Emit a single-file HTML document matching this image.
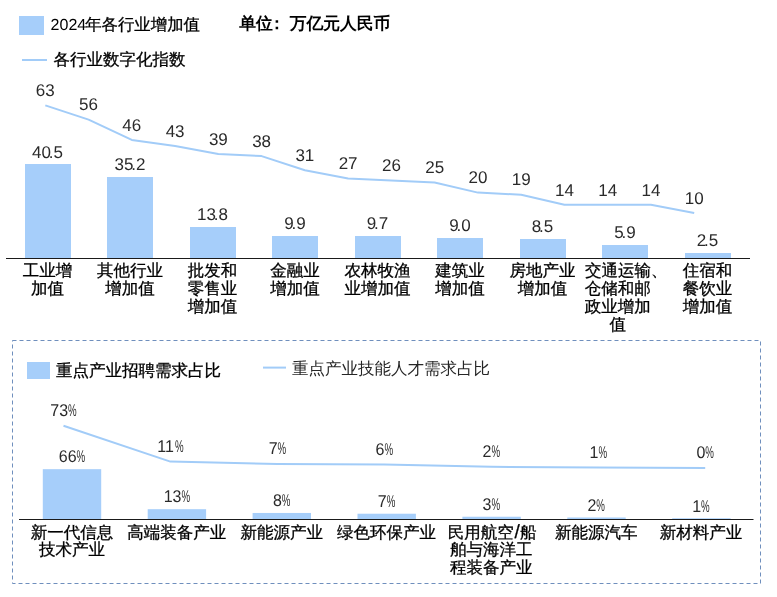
<!DOCTYPE html><html><head><meta charset="utf-8"><style>html,body{margin:0;padding:0;background:#fff;}svg{display:block;font-family:"Liberation Sans",sans-serif;text-rendering:geometricPrecision;will-change:transform;}</style></head><body>
<svg width="777" height="597" viewBox="0 0 777 597">
<rect x="19" y="16" width="25" height="19" fill="#A6CEFA"/>
<text x="50.6" y="30.4" fill="#000" stroke="#000" stroke-width="0.3"><tspan font-size="16" stroke-width="0">2024</tspan><tspan font-size="16.4" dx="-1">年各行业增加值</tspan></text>
<text x="239.3" y="29.0" fill="#000" font-weight="bold" font-size="16.8">单位<tspan dx="-4.4">：</tspan><tspan dx="4.4">万亿元人民币</tspan></text>
<rect x="22" y="59" width="25" height="2" fill="#A2CCF8"/>
<text x="53.40" y="64.80" text-anchor="start" fill="#000" stroke="#000" stroke-width="0.3"><tspan font-size="16.5">各行业数字化指数</tspan></text>
<polyline points="45.3,105.4 88.6,119.6 131.8,139.9 175.1,146.0 218.3,154.1 261.6,156.1 304.9,170.3 348.1,178.4 391.4,180.5 434.6,182.5 477.9,192.6 521.2,194.7 564.4,204.8 607.7,204.8 650.9,204.8 694.2,212.9" fill="none" stroke="#A2CCF8" stroke-width="2" stroke-linejoin="round"/>
<text transform="translate(45.30,96.24) scale(1.0,1)" text-anchor="middle" fill="#2a2a2a" font-size="17">63</text>
<text transform="translate(88.56,110.43) scale(1.0,1)" text-anchor="middle" fill="#2a2a2a" font-size="17">56</text>
<text transform="translate(131.82,130.71) scale(1.0,1)" text-anchor="middle" fill="#2a2a2a" font-size="17">46</text>
<text transform="translate(175.08,136.80) scale(1.0,1)" text-anchor="middle" fill="#2a2a2a" font-size="17">43</text>
<text transform="translate(218.34,144.91) scale(1.0,1)" text-anchor="middle" fill="#2a2a2a" font-size="17">39</text>
<text transform="translate(261.60,146.94) scale(1.0,1)" text-anchor="middle" fill="#2a2a2a" font-size="17">38</text>
<text transform="translate(304.86,161.13) scale(1.0,1)" text-anchor="middle" fill="#2a2a2a" font-size="17">31</text>
<text transform="translate(348.12,169.24) scale(1.0,1)" text-anchor="middle" fill="#2a2a2a" font-size="17">27</text>
<text transform="translate(391.38,171.27) scale(1.0,1)" text-anchor="middle" fill="#2a2a2a" font-size="17">26</text>
<text transform="translate(434.64,173.30) scale(1.0,1)" text-anchor="middle" fill="#2a2a2a" font-size="17">25</text>
<text transform="translate(477.90,183.44) scale(1.0,1)" text-anchor="middle" fill="#2a2a2a" font-size="17">20</text>
<text transform="translate(521.16,185.47) scale(1.0,1)" text-anchor="middle" fill="#2a2a2a" font-size="17">19</text>
<text transform="translate(564.42,195.61) scale(1.0,1)" text-anchor="middle" fill="#2a2a2a" font-size="17">14</text>
<text transform="translate(607.68,195.61) scale(1.0,1)" text-anchor="middle" fill="#2a2a2a" font-size="17">14</text>
<text transform="translate(650.94,195.61) scale(1.0,1)" text-anchor="middle" fill="#2a2a2a" font-size="17">14</text>
<text transform="translate(694.20,203.72) scale(1.0,1)" text-anchor="middle" fill="#2a2a2a" font-size="17">10</text>
<rect x="24.80" y="164.27" width="46" height="93.73" fill="#A6CEFA" shape-rendering="crispEdges"/>
<text transform="translate(47.50,157.57) scale(1.0,1)" text-anchor="middle" fill="#2a2a2a" font-size="17">40<tspan dx="-2.3">.</tspan>5</text>
<text x="47.50" y="275.80" text-anchor="middle" fill="#000" stroke="#000" stroke-width="0.3"><tspan font-size="16.5">工业增</tspan></text>
<text x="47.50" y="293.90" text-anchor="middle" fill="#000" stroke="#000" stroke-width="0.3"><tspan font-size="16.5">加值</tspan></text>
<rect x="107.30" y="176.64" width="46" height="81.36" fill="#A6CEFA" shape-rendering="crispEdges"/>
<text transform="translate(130.00,169.94) scale(1.0,1)" text-anchor="middle" fill="#2a2a2a" font-size="17">35<tspan dx="-2.3">.</tspan>2</text>
<text x="130.00" y="275.80" text-anchor="middle" fill="#000" stroke="#000" stroke-width="0.3"><tspan font-size="16.5">其他行业</tspan></text>
<text x="130.00" y="293.90" text-anchor="middle" fill="#000" stroke="#000" stroke-width="0.3"><tspan font-size="16.5">增加值</tspan></text>
<rect x="189.80" y="226.59" width="46" height="31.41" fill="#A6CEFA" shape-rendering="crispEdges"/>
<text transform="translate(212.50,219.89) scale(1.0,1)" text-anchor="middle" fill="#2a2a2a" font-size="17">13<tspan dx="-2.3">.</tspan>8</text>
<text x="212.50" y="275.80" text-anchor="middle" fill="#000" stroke="#000" stroke-width="0.3"><tspan font-size="16.5">批发和</tspan></text>
<text x="212.50" y="293.90" text-anchor="middle" fill="#000" stroke="#000" stroke-width="0.3"><tspan font-size="16.5">零售业</tspan></text>
<text x="212.50" y="312.00" text-anchor="middle" fill="#000" stroke="#000" stroke-width="0.3"><tspan font-size="16.5">增加值</tspan></text>
<rect x="272.30" y="235.69" width="46" height="22.31" fill="#A6CEFA" shape-rendering="crispEdges"/>
<text transform="translate(295.00,228.99) scale(1.0,1)" text-anchor="middle" fill="#2a2a2a" font-size="17">9<tspan dx="-2.3">.</tspan>9</text>
<text x="295.00" y="275.80" text-anchor="middle" fill="#000" stroke="#000" stroke-width="0.3"><tspan font-size="16.5">金融业</tspan></text>
<text x="295.00" y="293.90" text-anchor="middle" fill="#000" stroke="#000" stroke-width="0.3"><tspan font-size="16.5">增加值</tspan></text>
<rect x="354.80" y="236.16" width="46" height="21.84" fill="#A6CEFA" shape-rendering="crispEdges"/>
<text transform="translate(377.50,229.46) scale(1.0,1)" text-anchor="middle" fill="#2a2a2a" font-size="17">9<tspan dx="-2.3">.</tspan>7</text>
<text x="377.50" y="275.80" text-anchor="middle" fill="#000" stroke="#000" stroke-width="0.3"><tspan font-size="16.5">农林牧渔</tspan></text>
<text x="377.50" y="293.90" text-anchor="middle" fill="#000" stroke="#000" stroke-width="0.3"><tspan font-size="16.5">业增加值</tspan></text>
<rect x="437.30" y="237.79" width="46" height="20.21" fill="#A6CEFA" shape-rendering="crispEdges"/>
<text transform="translate(460.00,231.09) scale(1.0,1)" text-anchor="middle" fill="#2a2a2a" font-size="17">9<tspan dx="-2.3">.</tspan>0</text>
<text x="460.00" y="275.80" text-anchor="middle" fill="#000" stroke="#000" stroke-width="0.3"><tspan font-size="16.5">建筑业</tspan></text>
<text x="460.00" y="293.90" text-anchor="middle" fill="#000" stroke="#000" stroke-width="0.3"><tspan font-size="16.5">增加值</tspan></text>
<rect x="519.80" y="238.96" width="46" height="19.04" fill="#A6CEFA" shape-rendering="crispEdges"/>
<text transform="translate(542.50,232.26) scale(1.0,1)" text-anchor="middle" fill="#2a2a2a" font-size="17">8<tspan dx="-2.3">.</tspan>5</text>
<text x="542.50" y="275.80" text-anchor="middle" fill="#000" stroke="#000" stroke-width="0.3"><tspan font-size="16.5">房地产业</tspan></text>
<text x="542.50" y="293.90" text-anchor="middle" fill="#000" stroke="#000" stroke-width="0.3"><tspan font-size="16.5">增加值</tspan></text>
<rect x="602.30" y="245.03" width="46" height="12.97" fill="#A6CEFA" shape-rendering="crispEdges"/>
<text transform="translate(625.00,238.33) scale(1.0,1)" text-anchor="middle" fill="#2a2a2a" font-size="17">5<tspan dx="-2.3">.</tspan>9</text>
<rect x="684.80" y="252.97" width="46" height="5.03" fill="#A6CEFA" shape-rendering="crispEdges"/>
<text transform="translate(707.50,246.27) scale(1.0,1)" text-anchor="middle" fill="#2a2a2a" font-size="17">2<tspan dx="-2.3">.</tspan>5</text>
<text x="707.50" y="275.80" text-anchor="middle" fill="#000" stroke="#000" stroke-width="0.3"><tspan font-size="16.5">住宿和</tspan></text>
<text x="707.50" y="293.90" text-anchor="middle" fill="#000" stroke="#000" stroke-width="0.3"><tspan font-size="16.5">餐饮业</tspan></text>
<text x="707.50" y="312.00" text-anchor="middle" fill="#000" stroke="#000" stroke-width="0.3"><tspan font-size="16.5">增加值</tspan></text>
<text x="585.00" y="275.80" text-anchor="start" fill="#000" stroke="#000" stroke-width="0.3"><tspan font-size="16.5">交通运输、</tspan></text>
<text x="617.80" y="293.90" text-anchor="middle" fill="#000" stroke="#000" stroke-width="0.3"><tspan font-size="16.5">仓储和邮</tspan></text>
<text x="617.80" y="312.00" text-anchor="middle" fill="#000" stroke="#000" stroke-width="0.3"><tspan font-size="16.5">政业增加</tspan></text>
<text x="617.80" y="330.10" text-anchor="middle" fill="#000" stroke="#000" stroke-width="0.3"><tspan font-size="16.5">值</tspan></text>
<rect x="6" y="258" width="744" height="1" fill="#1a1a1a"/>
<rect x="12.5" y="340.5" width="748" height="243" fill="none" stroke="#6f8fbd" stroke-width="1" stroke-dasharray="4 3"/>
<rect x="27" y="362" width="23" height="17" fill="#A6CEFA"/>
<text x="56.00" y="375.70" text-anchor="start" fill="#000" stroke="#000" stroke-width="0.3"><tspan font-size="16.5">重点产业招聘需求占比</tspan></text>
<rect x="263" y="366.6" width="23" height="2" fill="#A2CCF8"/>
<text x="292.00" y="374.40" text-anchor="start" fill="#262626" stroke="#262626" stroke-width="0"><tspan font-size="16.5">重点产业技能人才需求占比</tspan></text>
<polyline points="63.5,425.7 170.4,461.6 277.4,463.9 384.4,464.5 491.3,466.8 598.2,467.4 705.2,468.0" fill="none" stroke="#A2CCF8" stroke-width="2" stroke-linejoin="round"/>
<g transform="translate(50.31,415.96)" fill="#2a2a2a" font-size="17"><text transform="scale(0.94,1)">73</text><text transform="translate(17.77,0) scale(0.57,1)">%</text></g>
<g transform="translate(157.26,451.92)" fill="#2a2a2a" font-size="17"><text transform="scale(0.94,1)">11</text><text transform="translate(17.77,0) scale(0.57,1)">%</text></g>
<g transform="translate(268.65,454.24)" fill="#2a2a2a" font-size="17"><text transform="scale(0.94,1)">7</text><text transform="translate(8.88,0) scale(0.57,1)">%</text></g>
<g transform="translate(375.61,454.82)" fill="#2a2a2a" font-size="17"><text transform="scale(0.94,1)">6</text><text transform="translate(8.88,0) scale(0.57,1)">%</text></g>
<g transform="translate(482.56,457.14)" fill="#2a2a2a" font-size="17"><text transform="scale(0.94,1)">2</text><text transform="translate(8.88,0) scale(0.57,1)">%</text></g>
<g transform="translate(589.50,457.72)" fill="#2a2a2a" font-size="17"><text transform="scale(0.94,1)">1</text><text transform="translate(8.88,0) scale(0.57,1)">%</text></g>
<g transform="translate(696.46,458.30)" fill="#2a2a2a" font-size="17"><text transform="scale(0.94,1)">0</text><text transform="translate(8.88,0) scale(0.57,1)">%</text></g>
<rect x="42.80" y="469.17" width="58.4" height="49.83" fill="#A6CEFA"/>
<g transform="translate(58.81,462.47)" fill="#2a2a2a" font-size="17"><text transform="scale(0.94,1)">66</text><text transform="translate(17.77,0) scale(0.57,1)">%</text></g>
<text x="72.00" y="538.00" text-anchor="middle" fill="#000" stroke="#000" stroke-width="0.3"><tspan font-size="16.5">新一代信息</tspan></text>
<text x="72.00" y="555.40" text-anchor="middle" fill="#000" stroke="#000" stroke-width="0.3"><tspan font-size="16.5">技术产业</tspan></text>
<rect x="147.70" y="509.19" width="58.4" height="9.81" fill="#A6CEFA"/>
<g transform="translate(163.64,502.49)" fill="#2a2a2a" font-size="17"><text transform="scale(0.94,1)">13</text><text transform="translate(17.77,0) scale(0.57,1)">%</text></g>
<text x="176.83" y="538.00" text-anchor="middle" fill="#000" stroke="#000" stroke-width="0.3"><tspan font-size="16.5">高端装备产业</tspan></text>
<rect x="252.60" y="512.96" width="58.4" height="6.04" fill="#A6CEFA"/>
<g transform="translate(272.91,506.26)" fill="#2a2a2a" font-size="17"><text transform="scale(0.94,1)">8</text><text transform="translate(8.88,0) scale(0.57,1)">%</text></g>
<text x="281.66" y="538.00" text-anchor="middle" fill="#000" stroke="#000" stroke-width="0.3"><tspan font-size="16.5">新能源产业</tspan></text>
<rect x="357.50" y="513.72" width="58.4" height="5.28" fill="#A6CEFA"/>
<g transform="translate(377.75,507.02)" fill="#2a2a2a" font-size="17"><text transform="scale(0.94,1)">7</text><text transform="translate(8.88,0) scale(0.57,1)">%</text></g>
<text x="386.49" y="538.00" text-anchor="middle" fill="#000" stroke="#000" stroke-width="0.3"><tspan font-size="16.5">绿色环保产业</tspan></text>
<rect x="462.40" y="516.74" width="58.4" height="2.26" fill="#A6CEFA"/>
<g transform="translate(482.57,510.04)" fill="#2a2a2a" font-size="17"><text transform="scale(0.94,1)">3</text><text transform="translate(8.88,0) scale(0.57,1)">%</text></g>
<text x="492.12" y="538" text-anchor="middle" fill="#000" stroke="#000" stroke-width="0.3" font-size="16.5">民用航空<tspan font-size="19" dx="0.6">/</tspan><tspan dx="0.3">船</tspan></text>
<text x="491.32" y="555.40" text-anchor="middle" fill="#000" stroke="#000" stroke-width="0.3"><tspan font-size="16.5">舶与海洋工</tspan></text>
<text x="491.32" y="572.80" text-anchor="middle" fill="#000" stroke="#000" stroke-width="0.3"><tspan font-size="16.5">程装备产业</tspan></text>
<rect x="567.30" y="517.49" width="58.4" height="1.51" fill="#A6CEFA"/>
<g transform="translate(587.40,510.79)" fill="#2a2a2a" font-size="17"><text transform="scale(0.94,1)">2</text><text transform="translate(8.88,0) scale(0.57,1)">%</text></g>
<text x="596.15" y="538.00" text-anchor="middle" fill="#000" stroke="#000" stroke-width="0.3"><tspan font-size="16.5">新能源汽车</tspan></text>
<rect x="672.20" y="518.25" width="58.4" height="0.75" fill="#A6CEFA"/>
<g transform="translate(692.24,511.55)" fill="#2a2a2a" font-size="17"><text transform="scale(0.94,1)">1</text><text transform="translate(8.88,0) scale(0.57,1)">%</text></g>
<text x="700.98" y="538.00" text-anchor="middle" fill="#000" stroke="#000" stroke-width="0.3"><tspan font-size="16.5">新材料产业</tspan></text>
<rect x="19" y="519" width="734.5" height="1" fill="#1a1a1a"/>
</svg></body></html>
